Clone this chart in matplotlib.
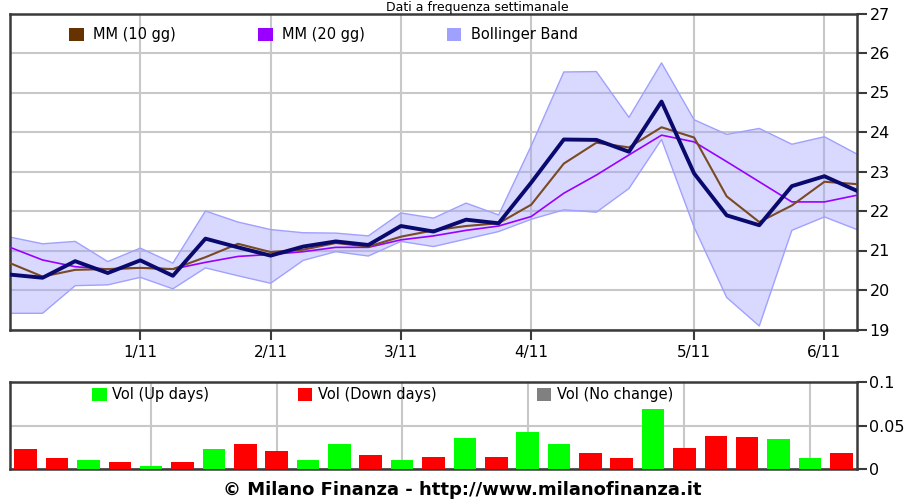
import matplotlib
matplotlib.use("Agg")
import matplotlib.pyplot as plt
from matplotlib.patches import Rectangle

# weekly data (index 0..26)
price = [20.39, 20.31, 20.73, 20.43, 20.75, 20.36, 21.30, 21.08, 20.87, 21.10,
         21.23, 21.14, 21.62, 21.48, 21.78, 21.69, 22.72, 23.81, 23.80, 23.50,
         24.77, 22.95, 21.89, 21.64, 22.63, 22.88, 22.51]
mm10 = [20.68, 20.34, 20.51, 20.53, 20.56, 20.53, 20.83, 21.17, 20.96, 21.02,
        21.19, 21.10, 21.35, 21.51, 21.62, 21.69, 22.16, 23.20, 23.73, 23.61,
        24.12, 23.86, 22.37, 21.72, 22.14, 22.74, 22.68]
mm20 = [21.08, 20.76, 20.59, 20.53, 20.56, 20.53, 20.70, 20.85, 20.90, 20.97,
        21.08, 21.08, 21.27, 21.37, 21.51, 21.62, 21.86, 22.45, 22.91, 23.42,
        23.92, 23.75, 23.25, 22.74, 22.23, 22.23, 22.40]
band_up = [21.34, 21.17, 21.23, 20.72, 21.06, 20.68, 22.00, 21.72, 21.53, 21.45,
           21.44, 21.37, 21.95, 21.82, 22.20, 21.90, 23.65, 25.52, 25.53, 24.37,
           25.75, 24.31, 23.94, 24.09, 23.69, 23.88, 23.44]
band_low = [19.41, 19.41, 20.11, 20.13, 20.32, 20.03, 20.56, 20.36, 20.17, 20.75,
            20.97, 20.86, 21.23, 21.10, 21.29, 21.48, 21.79, 22.03, 21.97, 22.57,
            23.81, 21.59, 19.81, 19.09, 21.51, 21.85, 21.53]
volume = [0.023, 0.0126, 0.0107, 0.0087, 0.0041, 0.0087, 0.023, 0.029, 0.021, 0.0107,
          0.029, 0.0164, 0.0107, 0.0145, 0.0363, 0.0145, 0.0425, 0.0287, 0.0184, 0.0126,
          0.069, 0.0248, 0.0386, 0.0368, 0.0348, 0.0126, 0.0184]
vol_dir = ["d", "d", "u", "d", "u", "d", "u", "d", "d", "u", "u", "d", "u", "d",
           "u", "d", "u", "u", "d", "d", "u", "d", "d", "d", "u", "u", "d"]
month_pos = [4, 8, 12, 16, 21, 25]
month_labels = ["1/11", "2/11", "3/11", "4/11", "5/11", "6/11"]

plt.rcParams["font.family"] = "DejaVu Sans"
dark = "#3a3a3a"
gridc = "#c8c8c8"

fig = plt.figure(figsize=(9.19, 4.99), dpi=100)
ax = fig.add_axes([10 / 919, 1 - 329.5 / 499, 847 / 919, 316 / 499])
ax2 = fig.add_axes([10 / 919, 1 - 469.3 / 499, 847 / 919, 87 / 499])

x = list(range(len(price)))

# price panel
ax.fill_between(x, band_low, band_up, facecolor="#a0a0ff", alpha=0.4,
                edgecolor="none", zorder=2)
ax.plot(x, band_up, color="#a0a0ff", lw=1, zorder=2)
ax.plot(x, band_low, color="#a0a0ff", lw=1, zorder=2)
ax.plot(x, mm20, color="#9900ff", lw=1.2, zorder=3)
ax.plot(x, mm10, color="#7a4a22", lw=1.5, zorder=3)
ax.plot(x, price, color="#0a0a6e", lw=2.8, zorder=4)

ax.set_xlim(0, 26)
ax.set_ylim(19, 27)
ax.set_yticks(range(19, 28))
ax.set_xticks(month_pos)
ax.set_xticklabels(month_labels)
ax.yaxis.tick_right()
ax.grid(True, color=gridc, lw=1.5, zorder=0)
ax.set_axisbelow(True)
ax.tick_params(axis="y", direction="out", length=7, width=1.5, color=dark,
               labelsize=11.5, pad=2)
ax.tick_params(axis="x", direction="out", length=7, width=1.5, color=dark,
               labelsize=11, pad=4)
for s in ax.spines.values():
    s.set_color(dark)
    s.set_linewidth(1.8)

# legend of the price panel, drawn by hand
top_leg = [("#663300", "MM (10 gg)", 0.070, 0.098),
           ("#9900ff", "MM (20 gg)", 0.293, 0.321),
           ("#a0a0ff", "Bollinger Band", 0.516, 0.544)]
for col, lab, xs, xt in top_leg:
    ax.add_patch(Rectangle((xs, 0.912), 0.017, 0.042, transform=ax.transAxes,
                           facecolor=col, edgecolor="none", zorder=5))
    ax.text(xt, 0.933, lab, transform=ax.transAxes, fontsize=10.5,
            va="center", ha="left", zorder=5)

# volume panel
bar_cols = ["#00ff00" if d == "u" else "#ff0000" for d in vol_dir]
ax2.bar([i + 0.5 for i in x], volume, width=0.72, color=bar_cols, zorder=3)
ax2.set_xlim(0, 27)
ax2.set_ylim(0, 0.1)
ax2.set_yticks([0, 0.05, 0.1])
ax2.set_yticklabels(["0", "0.05", "0.1"])
ax2.set_xticks([p + 0.5 for p in month_pos])
ax2.set_xticklabels([])
ax2.yaxis.tick_right()
ax2.grid(True, color=gridc, lw=1.5, zorder=0)
ax2.set_axisbelow(True)
ax2.tick_params(axis="y", direction="out", length=7, width=1.5, color=dark,
                labelsize=11.5, pad=2)
ax2.tick_params(axis="x", length=0)
for s in ax2.spines.values():
    s.set_color(dark)
    s.set_linewidth(1.8)

bot_leg = [("#00ff00", "Vol (Up days)", 0.097, 0.121),
           ("#ff0000", "Vol (Down days)", 0.340, 0.364),
           ("#808080", "Vol (No change)", 0.622, 0.646)]
for col, lab, xs, xt in bot_leg:
    ax2.add_patch(Rectangle((xs, 0.78), 0.017, 0.15, transform=ax2.transAxes,
                            facecolor=col, edgecolor="none", zorder=5))
    ax2.text(xt, 0.855, lab, transform=ax2.transAxes, fontsize=10.5,
             va="center", ha="left", zorder=5)

# title sits just above the frame (cut at the top in the original)
fig.text(477 / 919, 1 - 10.5 / 499, "Dati a frequenza settimanale", ha="center",
         va="baseline", fontsize=9)
fig.text(462 / 919, 1 - 490 / 499, "\u00a9 Milano Finanza - http://www.milanofinanza.it",
         ha="center", va="center", fontsize=13, fontweight="bold")

fig.savefig("out.png", dpi=100)
